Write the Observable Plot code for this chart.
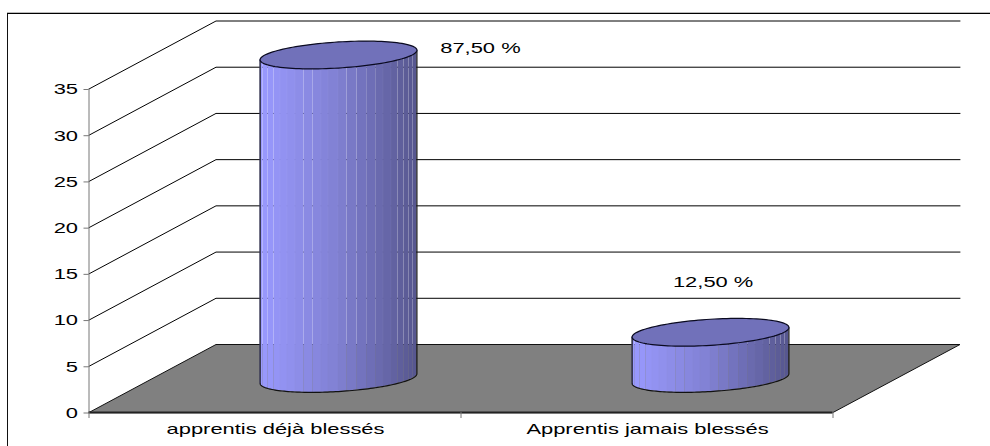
<!DOCTYPE html>
<html>
<head>
<meta charset="utf-8">
<script src="https://cdn.jsdelivr.net/npm/d3@7"></script>
<script src="https://cdn.jsdelivr.net/npm/@observablehq/plot@0.6"></script>
<style>
html,body{margin:0;padding:0;background:#fff;overflow:hidden}
#wrap{position:relative;width:990px;height:446px}
#frame{position:absolute;left:7px;top:13px;right:0;bottom:0;border-left:1px solid #111;border-top:1px solid #000;box-shadow:0 -1px 0 #bbb}
#chart{position:absolute;left:0;top:0}
</style>
</head>
<body>
<div id="wrap"><div id="frame"></div><div id="chart"></div></div>
<script>
// Chart data
const categories = ["apprentis déjà blessés", "Apprentis jamais blessés"];
const values = [35, 5];
const percentLabels = ["87,50 %", "12,50 %"];
const labelCat = [1.0495, 1.675];
const labelVal = [39.5, 14.15];
const yTicks = [0, 5, 10, 15, 20, 25, 30, 35];
const gridValues = [5, 10, 15, 20, 25, 30, 35];

// Oblique 3D projection expressed in data units of the two scales
const depthX = 127 / 372, depthY = 68 / (323.5 / 35);
const proj = (c, v, d) => ({x: c + d * depthX, y: v + d * depthY});

// Cylinder cross-section, in data units
const rx = 78.4 / 372, tilt = 0.52, ry = 1.41;
const seams = [-78.4,-75.5,-70.5,-64.5,-58,-51,-43,-34.5,-25.5,-17,-10,0,8.5,18.5,28.2,37.2,45,53,59.5,65.5,70.5,74.5,78.4].map(s => s / 78.4);
const lerpColor = d3.piecewise(d3.interpolateRgb, ["#9a9aff", "#8080d2", "#56568e"]);

const marks = [];

// Walls grid
marks.push(Plot.line(gridValues.flatMap(v => [
  {g: v, ...proj(0, v, 0)}, {g: v, ...proj(0, v, 1)}, {g: v, ...proj(2, v, 1)}
]), {x: "x", y: "y", z: "g", stroke: "#000", strokeWidth: 1}));

// Y axis line
marks.push(Plot.ruleX([0], {y1: 0, y2: 35, stroke: "#777", strokeWidth: 1}));

// Floor
const floor = [proj(0,0,0), proj(0,0,1), proj(2,0,1), proj(2,0,0)];
marks.push(Plot.line(floor, {x: "x", y: "y", curve: "linear-closed", fill: "#808080", stroke: "#111", strokeWidth: 1}));
marks.push(Plot.ruleY([0], {x1: 0, x2: 2, stroke: "#222", strokeWidth: 2}));

// Cylinders
values.forEach((val, i) => {
  const c = proj(i + 0.5, 0, 0.5);
  const topY = val + c.y;
  const bottomAt = u => c.y + tilt * u - ry * Math.sqrt(Math.max(0, 1 - u * u));
  const xAt = u => c.x + rx * u;
  for (let s = 0; s < seams.length - 1; s++) {
    const a = seams[s] + 0.0003, b = seams[s + 1] - 0.0003;
    const pts = d3.range(0, 7).map(k => {
      const u = a + (b - a) * k / 6;
      return {x: xAt(u), y1: bottomAt(u), y2: topY + tilt * u};
    });
    marks.push(Plot.areaY(pts, {x: "x", y1: "y1", y2: "y2", fill: lerpColor((seams[s] + seams[s + 1]) / 4 + 0.5)}));
  }
  // Outline of sides and bottom
  const us = d3.range(0, 91).map(k => Math.cos(k / 90 * Math.PI));
  const outline = [{x: xAt(1), y: topY + tilt},
    ...us.map(u => ({x: xAt(u), y: bottomAt(u)})),
    {x: xAt(-1), y: topY - tilt}];
  marks.push(Plot.line(outline, {x: "x", y: "y", stroke: "#111", strokeWidth: 1.2, strokeLinejoin: "round"}));
  // Top ellipse
  const ell = d3.range(0, 120).map(k => {
    const t = k / 120 * 2 * Math.PI;
    return {x: xAt(Math.cos(t)), y: topY + tilt * Math.cos(t) + ry * Math.sin(t)};
  });
  marks.push(Plot.line(ell, {x: "x", y: "y", curve: "linear-closed", fill: "#7171ba", stroke: "#0a0a20", strokeWidth: 1.2}));
});

// Percent labels
marks.push(Plot.text(percentLabels, {
  x: (d, i) => labelCat[i], y: (d, i) => labelVal[i], text: d => d,
  fill: "#000", textAnchor: "middle", fontSize: 15, dx: 1, dy: 0.5
}));

// Axes
marks.push(Plot.axisY(yTicks, {anchor: "left", tickSize: 5, tickPadding: 6, stroke: "#777", fill: "#000", label: null, fontSize: 15, dy: 0.5}));
marks.push(Plot.axisX([0, 1, 2], {anchor: "bottom", tickSize: 6, stroke: "#777", tickFormat: () => "", label: null}));
marks.push(Plot.axisX([0.5, 1.5], {anchor: "bottom", tickSize: 0, tickPadding: 11, fill: "#000", label: null, fontSize: 15, dx: 0.5,
  tickFormat: d => categories[Math.floor(d)]}));

const svg = Plot.plot({
  width: 990, height: 446,
  marginLeft: 88.5, marginRight: 157.5, marginTop: 88.5, marginBottom: 34,
  x: {domain: [0, 2], axis: null},
  y: {domain: [0, 35], axis: null},
  style: {fontFamily: "'Liberation Sans', Arial, sans-serif", fontSize: "15px", background: "transparent", overflow: "visible"},
  marks
});
document.getElementById("chart").appendChild(svg);

// The reference's text is stretched horizontally
const textStretch = 1.46;
svg.querySelectorAll("text").forEach(t => {
  if (!t.textContent) return;
  t.setAttribute("textLength", t.getComputedTextLength() * textStretch);
  t.setAttribute("lengthAdjust", "spacingAndGlyphs");
});
</script>
</body>
</html>
